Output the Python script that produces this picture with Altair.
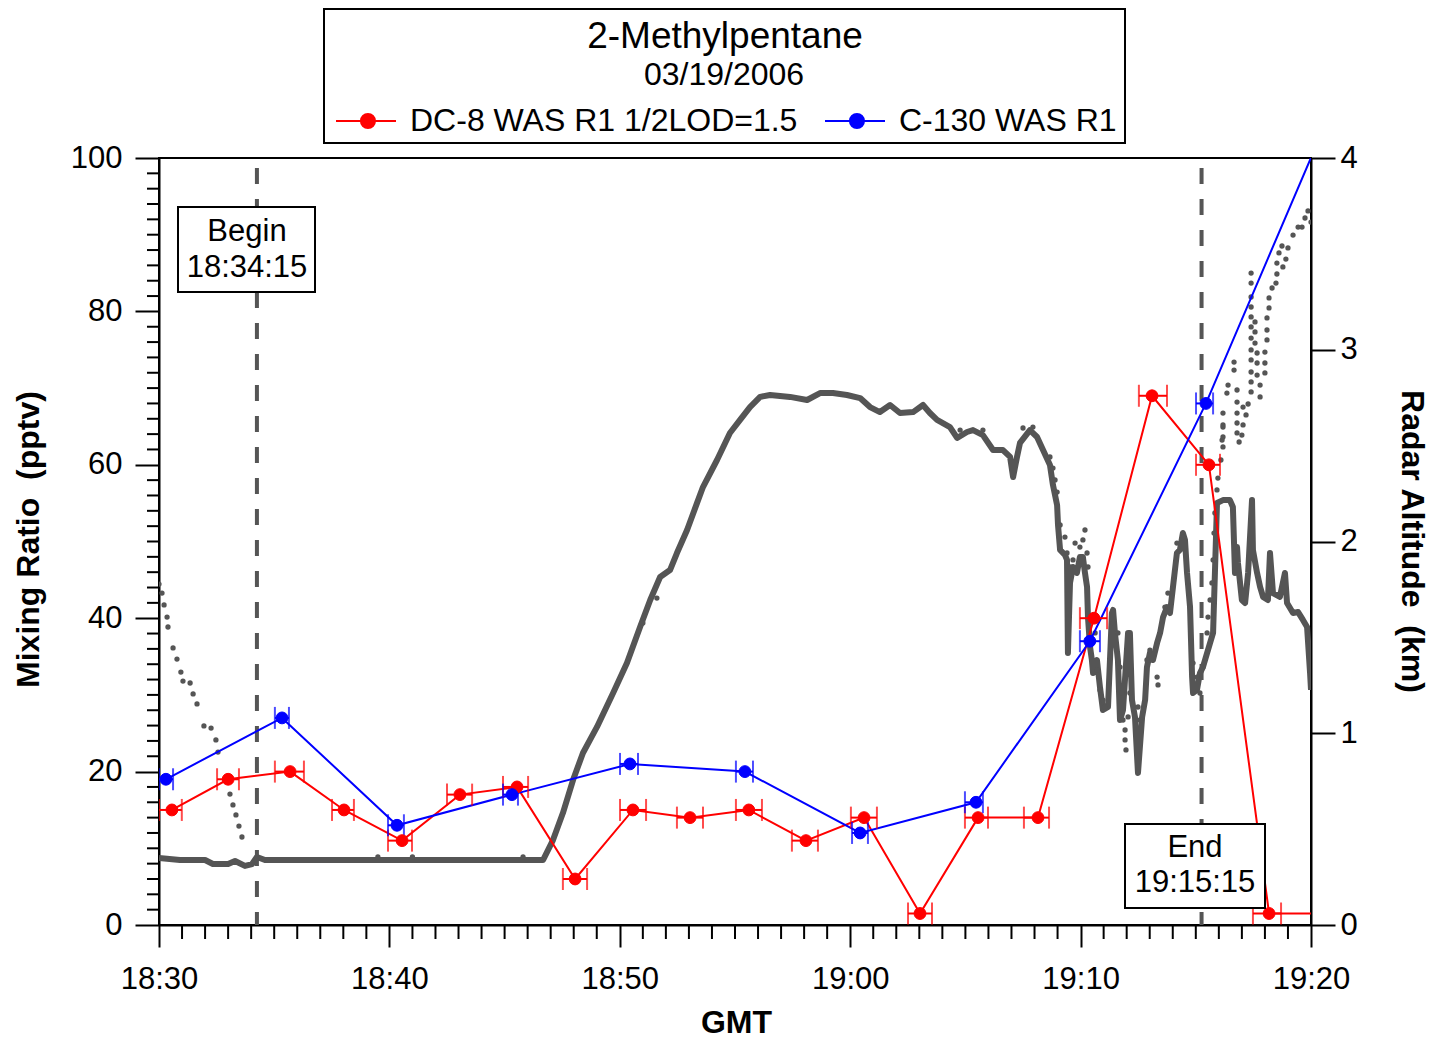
import altair as alt
import pandas as pd

FONT = "Liberation Sans, Arial, Helvetica, sans-serif"
GRAY = "#555555"
RED = "#ff0000"
BLUE = "#0000ff"

TITLE = "2-Methylpentane"
DATE = "03/19/2006"
SERIES = ["DC-8 WAS R1 1/2LOD=1.5", "C-130 WAS R1"]

# x values are minutes after 18:30 GMT
X_TICK_VALUES = [0, 10, 20, 30, 40, 50]
X_TICK_LABELS = ["18:30", "18:40", "18:50", "19:00", "19:10", "19:20"]
Y_TICK_VALUES = [0, 20, 40, 60, 80, 100]
ALT_TICK_VALUES = [0, 1, 2, 3, 4]
X_MINOR = [m for m in range(1, 50) if m % 10]
Y_MINOR = [v for v in range(2, 100, 2) if v % 20]

MARKERS_MIN = [4.25, 45.25]          # Begin 18:34:15, End 19:15:15
BEGIN_TEXT = ["Begin", "18:34:15"]
END_TEXT = ["End", "19:15:15"]

# DC-8 WAS samples (pptv), sample start/stop in minutes after 18:30
DC8_TIME = [0.56, 3.0, 5.69, 8.03, 10.55, 13.06, 15.54, 18.06, 20.57, 23.05, 25.6,
            28.08, 30.6, 33.03, 35.55, 38.15, 40.58, 43.1, 45.57, 48.18, 50.6]
DC8_START = [0.0, 2.52, 5.03, 7.51, 9.94, 12.5, 14.93, 17.53, 20.01, 22.48, 25.04,
             27.47, 30.03, 32.51, 34.98, 37.54, 39.97, 42.53, 45.01, 47.48, 50.05]
DC8_STOP = [0.99, 3.47, 6.29, 8.46, 10.98, 13.59, 16.02, 18.58, 21.14, 23.61, 26.17,
            28.6, 31.16, 33.55, 35.98, 38.63, 41.15, 43.75, 46.05, 48.7, 51.2]
DC8_VALUE = [15, 19, 20, 15, 11, 17, 18, 6, 15, 14, 15, 11, 14, 1.5, 14, 14, 40, 69, 60, 1.5, 1.5]

# C-130 WAS samples
C130_TIME = [0.3, 5.34, 10.33, 15.32, 20.44, 25.43, 30.43, 35.46, 40.4, 45.44, 50.35]
C130_START = [0.0, 5.03, 9.94, 14.93, 20.01, 25.04, 30.08, 34.98, 39.97, 45.01, 50.0]
C130_STOP = [0.61, 5.64, 10.63, 15.58, 20.79, 25.78, 30.77, 35.76, 40.84, 45.75, 50.7]
C130_VALUE = [19, 27, 13, 17, 21, 20, 12, 16, 37, 68, 102.5]

# radar altitude (km), solid trace: (minutes, km)
ALT_SOLID = [
    (0, 0.349), (0.91, 0.339), (2.0, 0.339), (2.34, 0.318), (3.0, 0.318), (3.3, 0.334),
    (3.73, 0.308), (4.04, 0.318), (4.25, 0.355), (4.6, 0.339), (6.12, 0.339), (10.46, 0.339),
    (14.8, 0.339), (16.67, 0.339), (17.1, 0.443), (17.53, 0.584), (17.97, 0.756), (18.4, 0.897),
    (19.01, 1.033), (19.71, 1.21), (20.31, 1.366), (20.88, 1.554), (21.32, 1.695), (21.75, 1.815),
    (22.18, 1.851), (22.48, 1.94), (22.92, 2.06), (23.35, 2.2), (23.61, 2.284), (24.22, 2.425),
    (24.78, 2.566), (25.22, 2.634), (25.65, 2.701), (26.09, 2.754), (26.52, 2.764), (27.39, 2.754),
    (28.13, 2.738), (28.69, 2.774), (29.25, 2.774), (29.86, 2.764), (30.43, 2.748), (30.86, 2.701),
    (31.29, 2.675), (31.73, 2.712), (32.16, 2.67), (32.73, 2.675), (33.16, 2.712), (33.46, 2.67),
    (33.77, 2.634), (34.33, 2.597), (34.64, 2.54), (35.07, 2.571), (35.33, 2.581), (35.76, 2.555),
    (36.2, 2.477), (36.63, 2.477), (36.94, 2.441), (37.07, 2.336), (37.24, 2.441), (37.37, 2.514),
    (37.8, 2.581), (38.11, 2.545), (38.37, 2.477), (38.67, 2.399), (38.8, 2.295), (38.98, 2.19),
    (39.02, 2.086), (39.11, 1.956), (39.32, 1.93), (39.41, 1.904), (39.45, 1.419), (39.54, 1.784),
    (39.67, 1.867), (39.84, 1.836), (39.97, 1.919), (40.1, 1.919), (40.19, 1.836), (40.28, 1.763),
    (40.32, 1.606), (40.41, 1.45), (40.49, 1.382), (40.54, 1.314), (40.71, 1.382), (40.84, 1.241),
    (40.97, 1.121), (41.19, 1.137), (41.36, 1.627), (41.41, 1.643), (41.49, 1.523), (41.62, 1.382),
    (41.71, 1.069), (41.84, 1.121), (42.06, 1.523), (42.14, 1.523), (42.23, 1.173), (42.36, 1.085),
    (42.49, 0.793), (42.67, 1.085), (42.8, 1.173), (42.88, 1.345), (43.01, 1.419), (43.14, 1.382),
    (43.32, 1.471), (43.45, 1.523), (43.58, 1.606), (43.75, 1.658), (43.88, 1.627), (44.01, 1.763),
    (44.18, 1.94), (44.31, 1.956), (44.44, 2.044), (44.53, 2.008), (44.62, 1.836), (44.75, 1.658),
    (44.84, 1.293), (44.88, 1.21), (45.05, 1.226), (45.18, 1.314), (45.31, 1.345), (45.62, 1.471),
    (45.75, 1.523), (45.83, 1.836), (45.92, 2.201), (46.18, 2.216), (46.48, 2.216), (46.61, 2.18),
    (46.7, 1.836), (46.79, 1.971), (46.83, 1.888), (47.0, 1.695), (47.14, 1.679), (47.27, 1.836),
    (47.44, 2.216), (47.48, 1.956), (47.66, 1.836), (47.79, 1.763), (47.92, 1.711), (48.13, 1.695),
    (48.22, 1.94), (48.35, 1.731), (48.65, 1.711), (48.87, 1.836), (48.96, 1.679), (49.22, 1.627),
    (49.44, 1.632), (49.65, 1.591), (49.83, 1.554), (49.96, 1.314), (50.0, 1.226),
]

# second altitude record, dotted: (minutes, km)
ALT_DOTS = [
    (0.0, 1.778), (0.13, 1.731), (0.22, 1.669), (0.35, 1.606), (0.39, 1.554), (0.61, 1.445),
    (0.78, 1.387), (0.95, 1.319), (1.04, 1.272), (1.35, 1.262), (1.48, 1.205), (1.65, 1.153),
    (1.95, 1.038), (2.26, 1.027), (2.47, 0.965), (2.56, 0.902), (3.08, 0.683), (3.21, 0.626),
    (3.34, 0.574), (3.47, 0.516), (3.6, 0.459),
    (9.5, 0.355), (11.0, 0.355), (15.8, 0.355), (21.0, 1.575), (21.61, 1.705),
    (34.77, 2.581), (35.76, 2.581), (37.5, 2.592), (37.93, 2.597),
    (38.67, 2.441), (38.8, 2.383), (38.89, 2.321), (38.98, 2.258), (39.11, 2.086), (39.32, 2.023),
    (39.41, 1.94), (39.54, 1.867), (39.67, 1.904), (39.76, 1.992), (39.97, 1.971), (40.1, 2.008),
    (40.19, 2.06), (40.28, 1.94), (40.32, 1.867), (40.63, 1.523), (40.71, 1.33), (40.84, 1.226),
    (40.97, 1.173), (41.06, 1.137), (41.41, 1.575), (41.62, 1.523), (41.71, 1.345), (41.8, 1.21),
    (41.84, 1.069), (41.93, 1.017), (41.93, 0.965), (41.97, 0.913), (42.06, 1.085), (42.14, 1.21),
    (42.49, 1.137), (42.58, 1.069), (42.88, 1.382), (43.01, 1.434), (43.32, 1.293), (43.36, 1.252),
    (43.66, 1.658), (43.79, 1.731), (44.18, 1.992), (44.44, 2.023), (44.75, 1.658), (44.88, 1.366),
    (45.05, 1.293), (45.18, 1.21), (45.31, 1.345), (45.49, 1.523), (45.53, 1.606), (45.62, 1.695),
    (45.7, 1.784), (45.75, 1.904), (45.79, 2.044), (45.83, 2.149), (45.92, 2.269), (45.96, 2.331),
    (46.09, 2.425), (46.14, 2.529), (46.18, 2.597), (46.18, 2.67), (46.18, 2.608), (46.18, 2.545),
    (46.18, 2.493), (46.35, 2.774), (46.4, 2.816), (46.66, 2.936), (46.66, 2.894), (46.79, 2.79),
    (46.79, 2.727), (46.79, 2.67), (46.79, 2.618), (46.79, 2.566), (46.88, 2.519), (47.0, 2.555),
    (47.05, 2.701), (47.05, 2.608), (47.18, 2.66), (47.27, 2.717), (47.4, 3.4), (47.4, 3.348),
    (47.4, 3.275), (47.4, 3.223), (47.4, 3.171), (47.4, 3.119), (47.4, 3.061), (47.4, 2.999),
    (47.4, 2.947), (47.4, 2.884), (47.4, 2.832), (47.4, 2.78), (47.57, 3.145), (47.57, 3.093),
    (47.57, 3.035), (47.66, 2.983), (47.66, 2.931), (47.66, 2.868), (47.79, 2.816), (47.79, 2.754),
    (48.0, 2.879), (48.0, 2.931), (48.0, 2.988), (48.09, 3.051), (48.09, 3.103), (48.09, 3.166),
    (48.18, 3.218), (48.18, 3.27), (48.31, 3.322), (48.48, 3.348), (48.52, 3.395), (48.52, 3.452),
    (48.61, 3.505), (48.74, 3.541), (48.78, 3.432), (48.91, 3.473), (49.0, 3.531), (49.22, 3.598),
    (49.44, 3.64), (49.61, 3.64), (49.74, 3.687), (49.87, 3.724), (50.0, 3.666),
]

# ---------------- tables ----------------
dc8 = pd.DataFrame({"series": SERIES[0], "time": DC8_TIME, "start": DC8_START,
                    "stop": DC8_STOP, "value": DC8_VALUE})
c130 = pd.DataFrame({"series": SERIES[1], "time": C130_TIME, "start": C130_START,
                     "stop": C130_STOP, "value": C130_VALUE})
pts = pd.concat([dc8, c130], ignore_index=True)


def caps(df):
    return pd.DataFrame({"t": list(df["start"]) + list(df["stop"]),
                         "value": list(df["value"]) * 2})


solid = pd.DataFrame(ALT_SOLID, columns=["t", "km"])
dots = pd.DataFrame(ALT_DOTS, columns=["t", "km"])

# ---------------- scales / axes ----------------
xs = alt.Scale(domain=[0, 50], nice=False, zero=False)
ys_mix = alt.Scale(domain=[0, 100], nice=False)
ys_alt = alt.Scale(domain=[0, 4], nice=False)

label_expr = "[" + ",".join("'%s'" % s for s in X_TICK_LABELS) + "][round(datum.value / 10)]"
x_axis = alt.Axis(values=X_TICK_VALUES, labelExpr=label_expr, title="GMT", tickSize=22,
                  labelPadding=17, titleX=577, titleY=97, titleBaseline="middle",
                  titleAlign="center", orient="bottom")
y_axis_mix = alt.Axis(values=Y_TICK_VALUES, orient="left", title="Mixing Ratio\u00a0 (pptv)",
                      tickSize=24, labelPadding=13, titleX=-131, titleY=381, titleAngle=-90,
                      titleBaseline="middle", titleAlign="center")
y_axis_alt = alt.Axis(values=ALT_TICK_VALUES, orient="right", title="Radar Altitude\u00a0 (km)",
                      tickSize=24, labelPadding=5, titleX=100, titleY=383, titleAngle=90,
                      titleBaseline="middle", titleAlign="center")


def X(field):
    # identical axis definition on every layer so that the shared x axis merges cleanly
    return alt.X(field, type="quantitative", scale=xs, axis=x_axis)


def YM(field, axis=None):
    return alt.Y(field, type="quantitative", scale=ys_mix, axis=axis)


def YA(field, axis=None):
    return alt.Y(field, type="quantitative", scale=ys_alt, axis=axis)


layers = []
# ---------------- altitude traces (right axis) ----------------
layers.append(alt.Chart(solid).mark_line(color=GRAY, strokeWidth=6, strokeJoin="round",
                                         clip=True).encode(
    x=X("t"), y=YA("km", y_axis_alt), order="t:Q"))
layers.append(alt.Chart(dots).mark_circle(color=GRAY, size=28, opacity=1, clip=True).encode(
    x=X("t"), y=YA("km")))

# ---------------- minor ticks and markers ----------------
layers.append(alt.Chart(pd.DataFrame({"m": X_MINOR})).mark_rule(
    color="black", strokeWidth=2).encode(x=X("m"), y=alt.value(767), y2=alt.value(781)))
layers.append(alt.Chart(pd.DataFrame({"v": Y_MINOR})).mark_rule(
    color="black", strokeWidth=2).encode(y=YM("v", y_axis_mix), x=alt.value(-12), x2=alt.value(0)))
layers.append(alt.Chart(pd.DataFrame({"m": MARKERS_MIN})).mark_rule(
    color=GRAY, strokeWidth=4, strokeDash=[16, 15]).encode(
    x=X("m"), y=alt.value(10), y2=alt.value(767)))

# ---------------- mixing ratios (left axis) ----------------
for df, col in ((dc8, RED), (c130, BLUE)):
    layers.append(alt.Chart(df).mark_line(color=col, strokeWidth=2, clip=True).encode(
        x=X("time"), y=YM("value"), order="time:Q"))
for df, col in ((dc8, RED), (c130, BLUE)):
    layers.append(alt.Chart(df).mark_rule(color=col, strokeWidth=2, clip=True).encode(
        x=X("start"), x2="stop:Q", y=YM("value")))
    layers.append(alt.Chart(caps(df)).mark_tick(color=col, orient="vertical", size=22,
                                                thickness=2, clip=True).encode(
        x=X("t"), y=YM("value")))

LEG_PATH = "M-1,0L3,0M0.66,0A0.47,0.47,0,1,1,1.6,0A0.47,0.47,0,1,1,0.66,0Z"
leg = alt.Legend(orient="none", legendX=176, legendY=-53, direction="horizontal", title=None,
                 symbolType=LEG_PATH, symbolSize=900, symbolStrokeWidth=2, symbolOpacity=1,
                 labelFont=FONT, labelFontSize=32, labelColor="black", labelOffset=43,
                 labelLimit=800, columnPadding=23, padding=0)
cscale = alt.Scale(domain=SERIES, range=[RED, BLUE])
layers.append(alt.Chart(pts).mark_point(filled=True, size=140, opacity=1, strokeWidth=1,
                                        clip=True).encode(
    x=X("time"), y=YM("value"),
    fill=alt.Fill("series:N", scale=cscale, legend=leg),
    stroke=alt.Stroke("series:N", scale=cscale, legend=leg)))


def box(x1, x2, y1, y2):
    return alt.Chart(pd.DataFrame({"k": [0]})).mark_rect(
        fill="white", stroke="black", strokeWidth=2).encode(
        x=alt.value(x1), x2=alt.value(x2), y=alt.value(y1), y2=alt.value(y2))


def text(s, x, y, size):
    return alt.Chart(pd.DataFrame({"s": [s]})).mark_text(
        font=FONT, fontSize=size, color="black", align="center", baseline="middle").encode(
        text="s:N", x=alt.value(x), y=alt.value(y))


layers += [
    box(19, 156, 49, 134), text(BEGIN_TEXT[0], 88, 74, 31), text(BEGIN_TEXT[1], 88, 110, 31),
    box(966, 1106, 666, 750), text(END_TEXT[0], 1036, 690, 31), text(END_TEXT[1], 1036, 725, 31),
    box(165, 966, -149, -15), text(TITLE, 566, -121, 37), text(DATE, 565, -83, 32),
]

chart = alt.layer(*layers).resolve_scale(y="independent").properties(
    width=1152, height=767,
    autosize=alt.AutoSizeParams(type="none"),
    padding={"left": 151, "top": 150, "right": 118, "bottom": 115},
).configure_axis(
    labelFont=FONT, labelFontSize=31, labelColor="black", titleFont=FONT, titleFontSize=32,
    titleFontWeight="bold", titleColor="black", domainColor="black", domainWidth=2,
    tickColor="black", tickWidth=2, grid=False, labelFlush=False, labelOverlap=False,
).configure_view(stroke="black", strokeWidth=2)

chart.save("out.html", embed_options={"renderer": "svg", "actions": False})
